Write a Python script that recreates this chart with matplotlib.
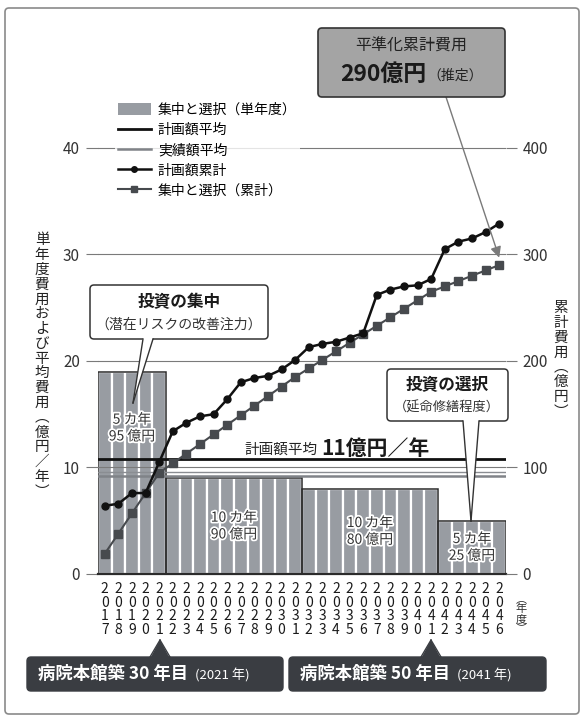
import matplotlib
matplotlib.use("Agg")
import matplotlib.pyplot as plt
import matplotlib.patheffects as pe
from matplotlib.patches import FancyBboxPatch, Polygon, Rectangle, Patch
from matplotlib.lines import Line2D

plt.rcParams['font.family'] = ['Noto Sans CJK JP', 'DejaVu Sans']

# ---- data ----
years = list(range(2017, 2047))
# 集中と選択（単年度） 億円
single_year = [19, 19, 19, 19, 19,
               9, 9, 9, 9, 9, 9, 9, 9, 9, 9,
               8, 8, 8, 8, 8, 8, 8, 8, 8, 8,
               5, 5, 5, 5, 5]
# 集中と選択（累計）
cum_select = [19, 38, 57, 76, 95, 104, 113, 122, 131, 140,
              149, 158, 167, 176, 185, 193, 201, 209, 217, 225,
              233, 241, 249, 257, 265, 270, 275, 280, 285, 290]
# 計画額累計
cum_plan = [64, 66, 76, 76, 105, 134, 142, 148, 150, 164,
            180, 184, 186, 192, 201, 213, 216, 218, 222, 226,
            262, 267, 270, 271, 277, 305, 312, 315, 321, 329]
plan_avg = 10.8      # 計画額平均
actual_avg = 9.2     # 実績額平均
actual_avg_2 = 9.6
groups = [(2017, 2021, "5 カ年\n95 億円"),
          (2022, 2031, "10 カ年\n90 億円"),
          (2032, 2041, "10 カ年\n80 億円"),
          (2042, 2046, "5 カ年\n25 億円")]
left_ticks = [0, 10, 20, 30, 40]
right_ticks = [0, 100, 200, 300, 400]

BAR = '#989ca2'
DARK = '#2b2b2b'
GRID = '#7a7a7a'

fig = plt.figure(figsize=(5.84, 7.18), dpi=100)
T = fig.dpi_scale_trans


def px(x, y):
    return (x / 100, (718 - y) / 100)


def ftext(x, y, s, **kw):
    fig.text(x / 100, (718 - y) / 100, s, transform=T, **kw)


def box(x0, y0, x1, y1, fc, ec, lw=1.0, z=5):
    p = FancyBboxPatch(px(x0, y1), (x1 - x0) / 100, (y1 - y0) / 100,
                       boxstyle="round,pad=0,rounding_size=0.04",
                       transform=T, fc=fc, ec=ec, lw=lw, zorder=z)
    fig.add_artist(p)


def pointer(xa, xb, ybase, tip, fc, ec, lw=1.0, z=6, inset=1.5):
    d = inset if tip[1] > ybase else -inset
    poly = Polygon([px(xa, ybase - d), px(xb, ybase - d), px(*tip)],
                   closed=True, transform=T, fc=fc, ec='none', zorder=z)
    fig.add_artist(poly)
    for xs in (xa, xb):
        a, b = px(xs, ybase), px(*tip)
        fig.add_artist(Line2D([a[0], b[0]], [a[1], b[1]], transform=T,
                              color=ec, lw=lw, zorder=z + 0.1))


ax = fig.add_axes([98 / 584, 144 / 718, 408 / 584, 490 / 718])
ax.set_xlim(2016.5, 2046.5)
ax.set_ylim(0, 46)

# bars
ax.bar(years, single_year, width=1.0, color=BAR, edgecolor='white', linewidth=1.6, zorder=1)
for y0, y1, label in groups:
    h = single_year[years.index(y0)]
    ax.add_patch(Rectangle((y0 - 0.5, 0), y1 - y0 + 1, h, fill=False,
                           ec=DARK, lw=1.1, zorder=1.5))
    ax.text((y0 + y1) / 2, h / 2 if h < 15 else 13.7, label, ha='center', va='center',
            fontsize=10, color='#333333', linespacing=1.25, zorder=3,
            path_effects=[pe.withStroke(linewidth=2.5, foreground='white')])

# grid & average lines
for t in left_ticks[1:]:
    ax.axhline(t, color=GRID, lw=0.8, zorder=2)
ax.axhline(actual_avg_2, color='#8a8d92', lw=1.0, zorder=2)
ax.axhline(actual_avg, color='#808388', lw=1.8, zorder=2)
ax.axhline(plan_avg, color='#111111', lw=2.0, zorder=2.2)

ax.set_xticks(years)
ax.set_xticklabels(["\n".join(str(y)) for y in years], fontsize=10, linespacing=0.95,
                   color='#1a1a1a')
ax.tick_params(axis='x', length=0, pad=6)
ax.set_yticks(left_ticks)
ax.set_yticklabels([str(t) for t in left_ticks], fontsize=11, color='#333333')
ax.tick_params(axis='y', length=9, width=0.8, color=GRID, pad=4)
for s in ('left', 'right', 'top'):
    ax.spines[s].set_visible(False)
ax.spines['bottom'].set_color(DARK)
ax.spines['bottom'].set_linewidth(1.6)
ax.spines['bottom'].set_zorder(4)

ax2 = ax.twinx()
ax2.set_ylim(0, 460)
ax2.plot(years, cum_plan, color='#111111', lw=1.8, marker='o', ms=5, zorder=4)
ax2.plot(years, cum_select, color='#474a4e', lw=1.5, marker='s', ms=5.5, zorder=3)
ax2.set_yticks(right_ticks)
ax2.set_yticklabels([str(t) for t in right_ticks], fontsize=11, color='#333333')
ax2.tick_params(axis='y', length=8, width=0.8, color=GRID, pad=4)
for s in ax2.spines.values():
    s.set_visible(False)

handles = [Patch(fc=BAR, ec='none'),
           Line2D([], [], color='#111111', lw=2.0),
           Line2D([], [], color='#808388', lw=1.8),
           Line2D([], [], color='#111111', lw=1.8, marker='o', ms=4),
           Line2D([], [], color='#474a4e', lw=1.5, marker='s', ms=5)]
labels = ["集中と選択（単年度）", "計画額平均", "実績額平均", "計画額累計", "集中と選択（累計）"]
leg = ax2.legend(handles, labels, loc='upper left', bbox_to_anchor=px(108, 93),
                 bbox_transform=T, fontsize=10, handlelength=2.4, handleheight=0.9,
                 labelspacing=0.45, borderpad=0.2, handletextpad=0.5,
                 frameon=True, fancybox=False)
leg.get_frame().set_facecolor('white')
leg.get_frame().set_edgecolor('none')
leg.set_zorder(5)

# axis titles (vertical)
ftext(42, 366, "\n".join("単年度費用および平均費用︵億円／年︶"), ha='center', va='center',
      fontsize=10.5, linespacing=1.07, color='#222222')
ftext(561, 360, "\n".join("累計費用︵億円︶"), ha='center', va='center',
      fontsize=10.5, linespacing=1.07, color='#222222')
ftext(521, 614, "\n".join("︵年度︶"), ha='center', va='center',
      fontsize=8, linespacing=0.95, color='#333333')

# top box
box(318, 28, 505, 97, '#a4a4a4', '#333333', lw=1.2)
ftext(411, 46, "平準化累計費用", ha='center', va='center', fontsize=11.5, color='#222222', zorder=7)
ftext(383, 74, "290億円", ha='center', va='center', fontsize=16.5, fontweight='bold',
      color='#1a1a1a', zorder=7)
ftext(455, 76, "（推定）", ha='center', va='center', fontsize=10, color='#222222', zorder=7)
ax2.annotate('', xy=(2046, 297), xycoords='data',
             xytext=px(446, 97), textcoords=T,
             arrowprops=dict(arrowstyle='-|>', color='#7a7a7a', lw=1.0,
                             mutation_scale=16, shrinkA=0, shrinkB=0),
             zorder=6)

# 投資の集中
box(90, 285, 268, 339, 'white', '#333333', lw=1.1)
pointer(143, 153, 339, (133, 403), 'white', '#333333')
ftext(179, 302, "投資の集中", ha='center', va='center', fontsize=12, fontweight='bold',
      color='#1a1a1a', zorder=7)
ftext(179, 325, "（潜在リスクの改善注力）", ha='center', va='center', fontsize=10,
      color='#333333', zorder=7)

# 投資の選択
box(387, 369, 508, 421, 'white', '#333333', lw=1.1)
pointer(463, 479, 421, (471, 521), 'white', '#333333')
ftext(447, 385, "投資の選択", ha='center', va='center', fontsize=12, fontweight='bold',
      color='#1a1a1a', zorder=7)
ftext(447, 408, "（延命修繕程度）", ha='center', va='center', fontsize=9.5,
      color='#333333', zorder=7)

# 計画額平均 label
ftext(318, 450, "計画額平均", ha='right', va='center', fontsize=10.5, color='#222222', zorder=7)
ftext(321, 448, "11億円／年", ha='left', va='center', fontsize=15, fontweight='bold',
      color='#1a1a1a', zorder=7)

# bottom boxes
DB = '#3a3d42'
box(27, 657, 283, 691, DB, DB, lw=1.0)
pointer(150, 170, 657, (160, 640), DB, DB)
ftext(38, 674, "病院本館築 30 年目", ha='left', va='center', fontsize=12.5,
      fontweight='bold', color='white', zorder=7)
ftext(195, 675, "(2021 年)", ha='left', va='center', fontsize=9.5, color='white', zorder=7)
box(289, 657, 546, 691, DB, DB, lw=1.0)
pointer(421, 441, 657, (431, 640), DB, DB)
ftext(300, 674, "病院本館築 50 年目", ha='left', va='center', fontsize=12.5,
      fontweight='bold', color='white', zorder=7)
ftext(457, 675, "(2041 年)", ha='left', va='center', fontsize=9.5, color='white', zorder=7)

# outer frame
box(5, 8, 579, 714, 'none', '#8a8a8a', lw=1.2, z=0)

fig.savefig("out.png", dpi=100)
